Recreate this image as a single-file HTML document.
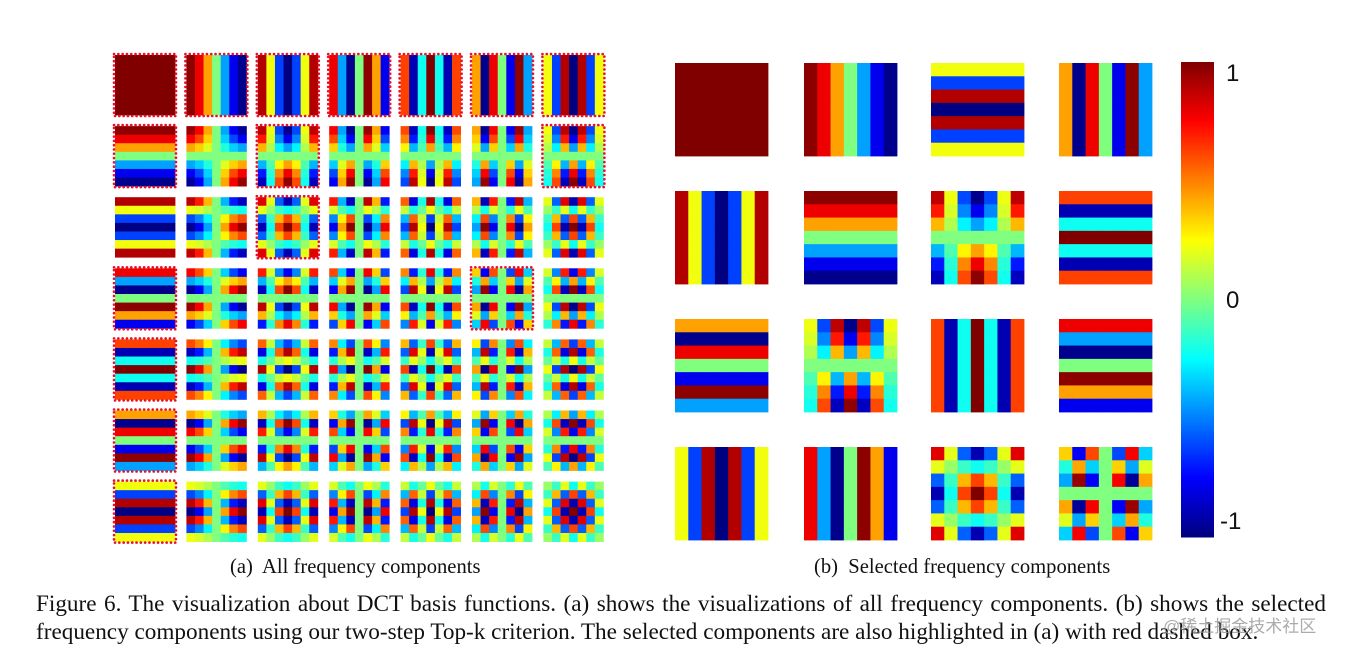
<!DOCTYPE html>
<html><head><meta charset="utf-8">
<style>
html,body{margin:0;padding:0;background:#fff;}
body{width:1346px;height:653px;position:relative;overflow:hidden;}
svg{position:absolute;left:0;top:0;}
.cap{position:absolute;font-family:"Liberation Serif",serif;font-size:20.6px;color:#111;white-space:nowrap;}
.fig{position:absolute;left:36px;width:1290px;font-family:"Liberation Serif",serif;font-size:23.2px;color:#111;text-align:justify;text-align-last:justify;white-space:nowrap;line-height:28px;}
.cb{position:absolute;font-family:"Liberation Sans",sans-serif;font-size:24px;color:#111;}
.wm{position:absolute;left:1163px;top:612px;font-family:"Liberation Sans","Noto Sans CJK SC",sans-serif;font-size:17px;color:rgba(150,150,150,0.8);}
</style></head><body>
<svg id="s" width="1346" height="653" xmlns="http://www.w3.org/2000/svg"></svg>
<div class="cap" style="left:230px;top:556px">(a)&nbsp; All frequency components</div>
<div class="cap" style="left:814px;top:556px">(b)&nbsp; Selected frequency components</div>
<div class="fig" style="top:590px">Figure 6. The visualization about DCT basis functions. (a) shows the visualizations of all frequency components. (b) shows the selected</div>
<div class="fig" style="top:618px;text-align-last:left;width:auto">frequency components using our two-step Top-k criterion. The selected components are also highlighted in (a) with red dashed box.</div>
<div class="wm">@稀土掘金技术社区</div>
<div class="cb" style="left:1226px;top:60px">1</div>
<div class="cb" style="left:1226px;top:287px">0</div>
<div class="cb" style="left:1220px;top:508px">-1</div>
<script>
function cl(x){return Math.max(0,Math.min(1,x));}
function jet(v){var t=(v+1)/2;var r=cl(1.5-Math.abs(4*t-3)),g=cl(1.5-Math.abs(4*t-2)),b=cl(1.5-Math.abs(4*t-1));
return 'rgb('+Math.round(r*255)+','+Math.round(g*255)+','+Math.round(b*255)+')';}
function basis(v,u,x,y){return Math.cos(Math.PI*u*(x+0.5)/7)*Math.cos(Math.PI*v*(y+0.5)/7);}
var out=[];
function tile(v,u,X,Y,W,H){
 for(var y=0;y<7;y++)for(var x=0;x<7;x++){
  var x0=X+W*x/7,y0=Y+H*y/7;
  out.push('<rect x="'+x0.toFixed(2)+'" y="'+y0.toFixed(2)+'" width="'+(W/7+0.4).toFixed(2)+'" height="'+(H/7+0.4).toFixed(2)+'" fill="'+jet(basis(v,u,x,y))+'"/>');
 }
}
var boxed={};
[[0,0],[0,1],[0,2],[0,3],[0,4],[0,5],[0,6],[1,0],[1,2],[1,6],[2,2],[3,0],[3,5],[4,0],[5,0],[6,0]].forEach(function(p){boxed[p[0]+','+p[1]]=1;});
for(var r=0;r<7;r++)for(var c=0;c<7;c++){
 var X=115+c*71.4,Y=55+r*71.1;
 tile(r,c,X,Y,60,60);
 if(boxed[r+','+c])out.push('<rect x="'+(X-1)+'" y="'+(Y-1)+'" width="62" height="62" fill="none" stroke="#e8102a" stroke-width="2.6" stroke-dasharray="0.1 4.2" stroke-linecap="round"/>');
}
var sel=[[0,0],[0,1],[6,0],[0,5],[0,2],[1,0],[1,2],[4,0],[5,0],[1,6],[0,4],[3,0],[0,6],[0,3],[2,2],[3,5]];
var xs=[675,804,931,1059],ys=[63,191,319,447];
sel.forEach(function(p,i){tile(p[0],p[1],xs[i%4],ys[Math.floor(i/4)],93,93);});
var N=200;
for(var i=0;i<N;i++){var v=1-2*(i+0.5)/N;
 out.push('<rect x="1181" y="'+(62+475*i/N).toFixed(2)+'" width="33" height="'+(475/N+0.5).toFixed(2)+'" fill="'+jet(v)+'"/>');}
document.getElementById('s').innerHTML=out.join('');
</script>
</body></html>
